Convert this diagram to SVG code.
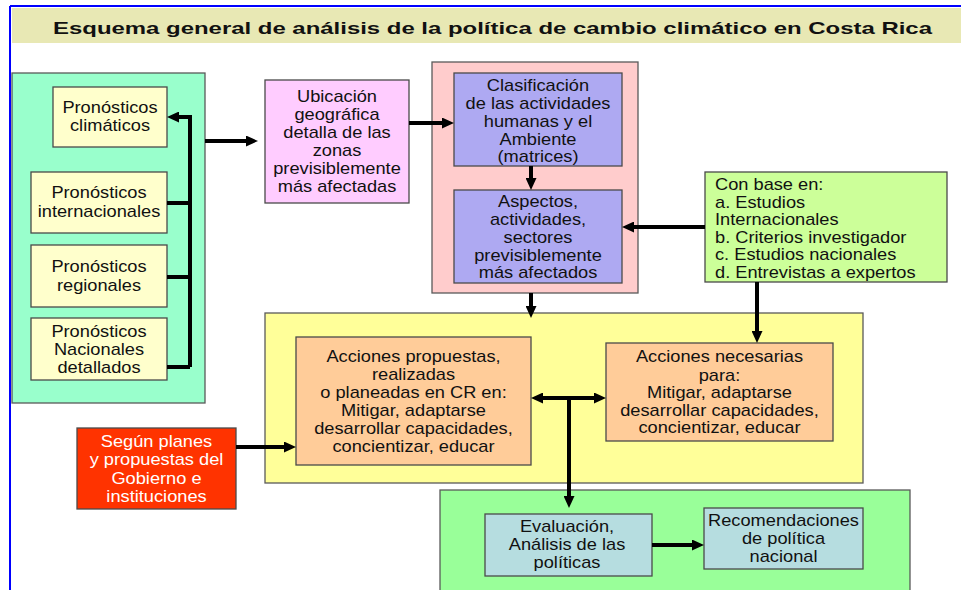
<svg xmlns="http://www.w3.org/2000/svg" width="961" height="590" viewBox="0 0 961 590">
<defs>
<style>
.box{stroke:#4a4a4a;stroke-width:1.3}
.cont{stroke:#5a5a5a;stroke-width:1.3}
.t{font-family:"Liberation Sans",Arial,sans-serif;font-size:16px;fill:#111;text-anchor:middle}
.tl{font-family:"Liberation Sans",Arial,sans-serif;font-size:16px;fill:#111;text-anchor:start}
.w{fill:#fff}
.c{fill:none;stroke:#000;stroke-width:4}
.a{marker-end:url(#ah)}
.aa{marker-start:url(#ah);marker-end:url(#ah)}
</style>
<marker id="ah" markerUnits="userSpaceOnUse" markerWidth="12" markerHeight="11" viewBox="0 0 12 11" refX="6" refY="5.5" orient="auto-start-reverse">
<path d="M0,0 L12,5.5 L0,11 z" fill="#000"/>
</marker>
</defs>
<rect width="961" height="590" fill="#fff"/>
<g id="frame">
<line x1="10" y1="6" x2="961" y2="6" stroke="#0000ff" stroke-width="2"/>
<line x1="10" y1="6" x2="10" y2="590" stroke="#0000ff" stroke-width="2"/>
<rect x="12" y="8" width="949" height="35" fill="#e8e8b4"/>
<text x="492.5" y="34" font-family="'Liberation Sans',Arial,sans-serif" font-size="17" font-weight="bold" text-anchor="middle" textLength="879" lengthAdjust="spacingAndGlyphs" fill="#111">Esquema general de análisis de la política de cambio climático en Costa Rica</text>
</g>
<g id="pronosticos">
<rect class="cont" x="12" y="73" width="193" height="330" fill="#99ffcc"/>
</g>
<g id="pron-climaticos">
<rect class="box" x="53" y="87" width="114" height="60" fill="#ffffcc"/>
<g transform="translate(110,0) scale(1.14,1)"><text class="t" x="0" y="113">Pronósticos</text><text class="t" x="0" y="131">climáticos</text></g>
</g>
<g id="pron-internacionales">
<rect class="box" x="31" y="172" width="136" height="61" fill="#ffffcc"/>
<g transform="translate(99,0) scale(1.14,1)"><text class="t" x="0" y="198">Pronósticos</text><text class="t" x="0" y="217">internacionales</text></g>
</g>
<g id="pron-regionales">
<rect class="box" x="31" y="245" width="136" height="62" fill="#ffffcc"/>
<g transform="translate(99,0) scale(1.14,1)"><text class="t" x="0" y="272">Pronósticos</text><text class="t" x="0" y="291">regionales</text></g>
</g>
<g id="pron-nacionales">
<rect class="box" x="31" y="318" width="136" height="62" fill="#ffffcc"/>
<g transform="translate(99,0) scale(1.14,1)"><text class="t" x="0" y="337">Pronósticos</text><text class="t" x="0" y="355">Nacionales</text><text class="t" x="0" y="373">detallados</text></g>
</g>
<g id="ubicacion">
<rect class="box" x="265" y="80" width="144" height="123" fill="#ffccff"/>
<g transform="translate(337,0) scale(1.14,1)"><text class="t" x="0" y="102">Ubicación</text><text class="t" x="0" y="120">geográfica</text><text class="t" x="0" y="138">detalla de las</text><text class="t" x="0" y="156">zonas</text><text class="t" x="0" y="174">previsiblemente</text><text class="t" x="0" y="192">más afectadas</text></g>
</g>
<g id="impactos">
<rect class="cont" x="432" y="62" width="206" height="231" fill="#ffcccc"/>
</g>
<g id="clasificacion">
<rect class="box" x="454" y="73" width="168" height="93" fill="#aea9f2"/>
<g transform="translate(538,0) scale(1.14,1)"><text class="t" x="0" y="91">Clasificación</text><text class="t" x="0" y="109">de las actividades</text><text class="t" x="0" y="127">humanas y el</text><text class="t" x="0" y="145">Ambiente</text><text class="t" x="0" y="162">(matrices)</text></g>
</g>
<g id="aspectos">
<rect class="box" x="454" y="190" width="168" height="93" fill="#aea9f2"/>
<g transform="translate(538,0) scale(1.14,1)"><text class="t" x="0" y="207">Aspectos,</text><text class="t" x="0" y="225">actividades,</text><text class="t" x="0" y="243">sectores</text><text class="t" x="0" y="261">previsiblemente</text><text class="t" x="0" y="278">más afectados</text></g>
</g>
<g id="con-base">
<rect class="box" x="705" y="172" width="242" height="110" fill="#ccff99"/>
<g transform="translate(715,0) scale(1.14,1)"><text class="tl" x="0" y="190">Con base en:</text><text class="tl" x="0" y="208">a. Estudios</text><text class="tl" x="0" y="225">Internacionales</text><text class="tl" x="0" y="243">b. Criterios investigador</text><text class="tl" x="0" y="260">c. Estudios nacionales</text><text class="tl" x="0" y="278">d. Entrevistas a expertos</text></g>
</g>
<g id="acciones">
<rect class="cont" x="265" y="313" width="598" height="170" fill="#ffff99"/>
</g>
<g id="acciones-propuestas">
<rect class="box" x="296" y="337" width="235" height="128" fill="#ffcc99"/>
<g transform="translate(413.5,0) scale(1.14,1)"><text class="t" x="0" y="362">Acciones propuestas,</text><text class="t" x="0" y="380">realizadas</text><text class="t" x="0" y="398">o planeadas en CR en:</text><text class="t" x="0" y="416">Mitigar, adaptarse</text><text class="t" x="0" y="434">desarrollar capacidades,</text><text class="t" x="0" y="452">concientizar, educar</text></g>
</g>
<g id="acciones-necesarias">
<rect class="box" x="606" y="343" width="227" height="98" fill="#ffcc99"/>
<g transform="translate(719.5,0) scale(1.14,1)"><text class="t" x="0" y="362">Acciones necesarias</text><text class="t" x="0" y="381">para:</text><text class="t" x="0" y="398">Mitigar, adaptarse</text><text class="t" x="0" y="416">desarrollar capacidades,</text><text class="t" x="0" y="433">concientizar, educar</text></g>
</g>
<g id="segun-planes">
<rect class="box" x="77" y="428" width="159" height="81" fill="#ff3300"/>
<g transform="translate(156.5,0) scale(1.14,1)"><text class="t w" x="0" y="447">Según planes</text><text class="t w" x="0" y="465">y propuestas del</text><text class="t w" x="0" y="484">Gobierno e</text><text class="t w" x="0" y="502">instituciones</text></g>
</g>
<g id="politica">
<rect class="cont" x="440" y="490" width="470" height="110" fill="#99ff99"/>
</g>
<g id="evaluacion">
<rect class="box" x="485" y="514" width="167" height="62" fill="#b6dde0"/>
<g transform="translate(567,0) scale(1.14,1)"><text class="t" x="0" y="532">Evaluación,</text><text class="t" x="0" y="550">Análisis de las</text><text class="t" x="0" y="568">políticas</text></g>
</g>
<g id="recomendaciones">
<rect class="box" x="704" y="508" width="159" height="61" fill="#b6dde0"/>
<g transform="translate(783.5,0) scale(1.14,1)"><text class="t" x="0" y="526">Recomendaciones</text><text class="t" x="0" y="544">de política</text><text class="t" x="0" y="562">nacional</text></g>
</g>
<g id="connectors">
<path class="c a" d="M190,367 L190,117 L173,117"/>
<path class="c" d="M167,203 H190 M167,277 H190 M167,367 H190"/>
<path class="c a" d="M205,141 H252"/>
<path class="c a" d="M409,123 H448"/>
<path class="c a" d="M531,166 V184"/>
<path class="c a" d="M705,227 H628"/>
<path class="c a" d="M531,293 V312"/>
<path class="c a" d="M757,282 V337"/>
<path class="c aa" d="M537,398 H600"/>
<path class="c a" d="M569,398 V502"/>
<path class="c a" d="M236,447 H290"/>
<path class="c a" d="M652,545 H698"/>
</g>
</svg>
